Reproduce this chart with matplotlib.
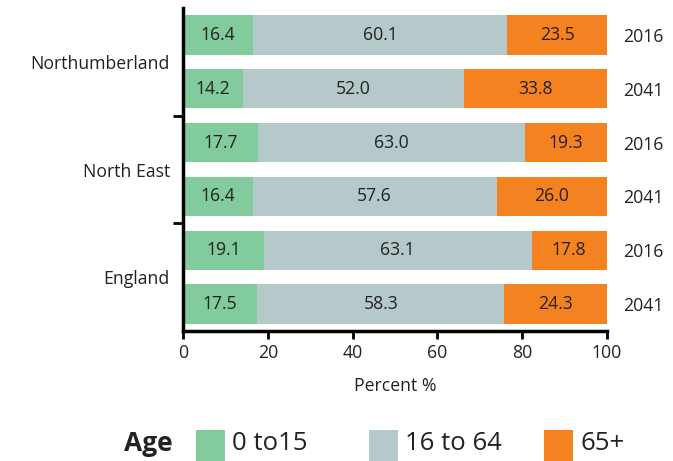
import matplotlib
matplotlib.use("Agg")
import matplotlib.pyplot as plt
from matplotlib.patches import Rectangle

plt.rcParams['font.family'] = ['Open Sans', 'DejaVu Sans']

regions = ["Northumberland", "North East", "England"]
years = ["2016", "2041"]
bar_years = ["2016", "2041", "2016", "2041", "2016", "2041"]
age_groups = ["0 to15", "16 to 64", "65+"]
young = [16.4, 14.2, 17.7, 16.4, 19.1, 17.5]
working = [60.1, 52.0, 63.0, 57.6, 63.1, 58.3]
older = [23.5, 33.8, 19.3, 26.0, 17.8, 24.3]
colors = ["#82cb9c", "#b5c8ca", "#f58220"]
xticks = [0, 20, 40, 60, 80, 100]

FS = 12.7
TC = '#222222'
W, H = 673, 461
fig = plt.figure(figsize=(W / 100, H / 100), dpi=100)
ax = fig.add_axes([183 / W, 1 - 331 / H, (607 - 183) / W, (331 - 8) / H])

pos = list(range(len(young)))
series = [young, working, older]
left = [0.0] * len(young)
for vals, col in zip(series, colors):
    bars = ax.barh(pos, vals, left=left, height=0.73, color=col, edgecolor='none')
    ax.bar_label(bars, labels=[f"{v:.1f}" for v in vals], label_type='center',
                 fontsize=FS, color=TC)
    left = [l + v for l, v in zip(left, vals)]

ax.set_xlim(0, 100)
ax.set_ylim(len(young) - 0.5, -0.5)
ax.set_xticks(xticks)
ax.set_xticklabels([str(t) for t in xticks], fontsize=FS, color=TC)
ax.tick_params(axis='x', length=6, width=2, color='black', pad=3)

# group boundaries as ticks, region labels at group centres
ax.set_yticks([1.5, 3.5])
ax.set_yticklabels([])
ax.tick_params(axis='y', which='major', length=7, width=2, color='black')
ax.set_yticks([0.5, 2.5, 4.5], minor=True)
ax.set_yticklabels(regions, minor=True, fontsize=FS, color=TC)
ax.tick_params(axis='y', which='minor', length=0, pad=9.5)

# year labels on right
ax2 = ax.twinx()
ax2.set_ylim(ax.get_ylim())
ax2.set_yticks(pos)
ax2.set_yticklabels(bar_years, fontsize=FS, color=TC)
ax2.tick_params(axis='y', length=0, pad=11.5)
for a in (ax, ax2):
    a.spines['top'].set_visible(False)
    a.spines['right'].set_visible(False)
ax2.spines['left'].set_visible(False)
ax2.spines['bottom'].set_visible(False)
ax.spines['left'].set_linewidth(2.5)
ax.spines['bottom'].set_linewidth(2.5)

ax.set_xlabel("Percent %", fontsize=FS, color=TC, labelpad=11)

# legend
ly = 1 - 443 / H
fig.text(173 / W, ly, "Age", fontsize=19, fontweight='bold', ha='right', va='center', color=TC)
patch_x = [196, 369, 544]
for px, lab, col in zip(patch_x, age_groups, colors):
    fig.add_artist(Rectangle((px / W, 1 - 461 / H), 29 / W, 31 / H, transform=fig.transFigure,
                             facecolor=col, edgecolor='none'))
    fig.text((px + 36) / W, ly, lab, fontsize=18.5, ha='left', va='center', color=TC)

fig.savefig("out.png", dpi=100)
